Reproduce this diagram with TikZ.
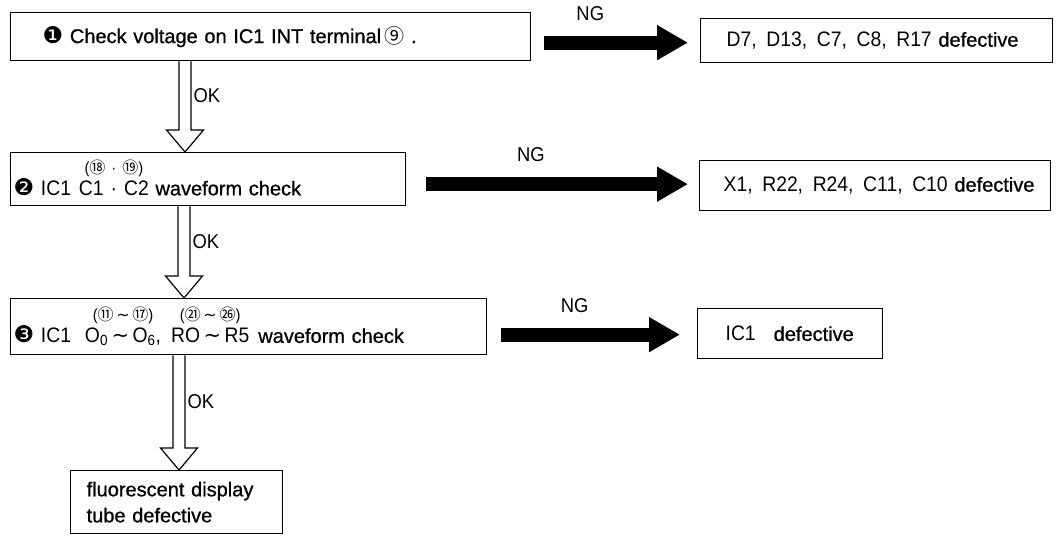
\documentclass[tikz,border=0pt]{standalone}
\usepackage{fontspec}
\setmainfont{Liberation Sans}[FakeBold=0.8]
\newfontfamily\condf[FakeStretch=0.92]{Liberation Sans}
\newfontfamily\dingf{DejaVu Sans}
\newfontfamily\circf{Noto Sans CJK JP}
\usetikzlibrary{arrows.meta, calc}

\newcommand{\cnum}[1]{{\circf #1}}
\newcommand{\wdash}{\,{\dingf ∼}\,}
\newcommand{\ding}[1]{{\dingf\fontsize{23}{23}\selectfont #1}}
\newcommand{\pinover}[2]{\begin{tabular}[b]{@{}c@{}}{\fontsize{16}{16}\selectfont #1}\\[-4pt]#2\end{tabular}}
\newcommand{\gap}{\ \hspace{3pt}}

% hollow OK arrow: x offset from box left, source box, target box
\newcommand{\okarrow}[3]{%
  \draw[okarr] let \p1=(#2.south west), \p2=(#3.north) in
    (\x1+#1pt-6pt,\y1) -- (\x1+#1pt-6pt,\y2+22pt) -- (\x1+#1pt-18.5pt,\y2+22pt)
    -- (\x1+#1pt,\y2) -- (\x1+#1pt+18.5pt,\y2+22pt) -- (\x1+#1pt+6pt,\y2+22pt)
    -- (\x1+#1pt+6pt,\y1)
    (\x1+#1pt+8pt,{0.5*\y1+0.5*\y2+11pt}) node[right, oklbl] {OK};}

\begin{document}
\begin{tikzpicture}[x=1pt, y=-1pt,
    box/.style={draw, line width=1.3pt, anchor=north west, inner xsep=0pt,
                inner ysep=0pt, align=left, font=\fontsize{20}{26}\selectfont},
    okarr/.style={line width=1.2pt, line join=miter},
    oklbl/.style={font=\condf\fontsize{20}{20}\selectfont, inner sep=0pt},
    ngarr/.style={line width=14pt, -{Triangle[length=31pt, width=33pt]}},
    nglbl/.style={font=\condf\fontsize{20}{20}\selectfont, inner sep=0pt, above=15pt}]

    \useasboundingbox (0,0) rectangle (1058,536);

    % check steps
    \node[box, text width=520pt, minimum height=48pt] (box1) at (10,12)
      {\hspace*{32pt}\ding{❶}\ Check voltage on IC1 INT terminal\,\cnum{⑨}\ .};
    \node[box, text width=395pt, minimum height=53pt] (box2) at (10,152)
      {\hspace*{3pt}\ding{❷}\ {\condf\fontsize{21}{26}\selectfont IC1\hspace{8pt}%
       \pinover{(\cnum{⑱}\hspace{6pt}·\hspace{6pt}\cnum{⑲})}{C1\hspace{7pt}·\hspace{7pt}C2}}\ waveform check};
    \node[box, text width=476pt, minimum height=56pt] (box3) at (10,298)
      {\hspace*{3pt}\ding{❸}\ {\condf\fontsize{21}{26}\selectfont IC1\hspace{14pt}%
       \pinover{(\cnum{⑪}\wdash\cnum{⑰})}{O\textsubscript{0}\wdash O\textsubscript{6},}\hspace{10pt}%
       \pinover{(\cnum{㉑}\wdash\cnum{㉖})}{RO\wdash R5}}\hspace{9pt}waveform check};

    % defective parts
    \node[box, text width=352pt, minimum height=44pt] (d7) at (700,18)
      {\hspace*{26pt}\mbox{{\condf\fontsize{21}{26}\selectfont D7,\gap D13,\gap C7,\gap C8,\gap R17} defective}};
    \node[box, text width=351pt, minimum height=50pt] (x1) at (699,160)
      {\hspace*{24pt}\mbox{{\condf\fontsize{21}{26}\selectfont X1,\gap R22,\gap R24,\gap C11,\gap C10} defective}};
    \node[box, text width=185pt, minimum height=50pt] (ic1) at (697,308)
      {\hspace*{28pt}{\condf\fontsize{21}{26}\selectfont IC1}\hspace{18pt}defective};
    \node[box, text width=212pt, minimum height=63pt] (tube) at (70,470)
      {\hspace*{16pt}fluorescent display\\\hspace*{16pt}tube defective};

    % NG arrows
    \draw[ngarr] ($(box1.east)+(13,6)$) coordinate (ng1) -- ($(ng1 -| d7.west)+(-12,0)$)
      node[pos=0.32, nglbl] {NG};
    \draw[ngarr] ($(box2.east)+(20,5)$) coordinate (ng2) -- ($(ng2 -| x1.west)+(-11,0)$)
      node[pos=0.40, nglbl] {NG};
    \draw[ngarr] ($(box3.east)+(14,8)$) coordinate (ng3) -- ($(ng3 -| ic1.west)+(-17,0)$)
      node[pos=0.41, nglbl] {NG};

    % OK arrows
    \okarrow{175}{box1}{box2}
    \okarrow{174}{box2}{box3}
    \okarrow{169}{box3}{tube}

\end{tikzpicture}
\end{document}
